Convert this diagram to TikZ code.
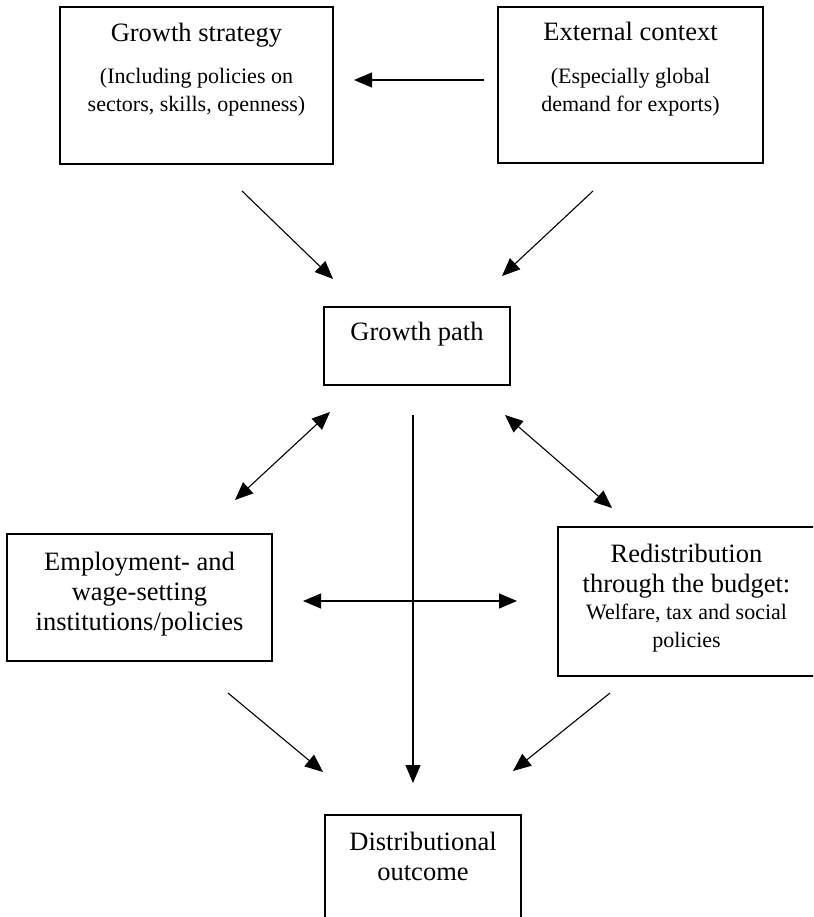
\documentclass[tikz,border=0pt]{standalone}
\usepackage{fontspec}
\setmainfont{Liberation Serif}
\usetikzlibrary{arrows.meta}

\begin{document}
\begin{tikzpicture}[x=1pt,y=-1pt,
  box/.style={draw, line width=1.1pt, inner sep=0pt, rectangle},
  % multi-line texts are placed by the baseline of their last line
  ttl/.style={font=\fontsize{26.5}{30}\selectfont, align=center, inner sep=0pt, anchor=base},
  sub/.style={font=\fontsize{22}{28}\selectfont, align=center, inner sep=0pt, anchor=base},
  link/.style={line width=1.1pt, -{Triangle[length=18pt,width=15pt]}},
  dlink/.style={line width=1.1pt, {Triangle[length=18pt,width=15pt]}-{Triangle[length=18pt,width=15pt]}}]

\useasboundingbox (0,0) rectangle (813,917);
\clip (0,0) rectangle (813,917);

% boxes (the budget box and the outcome box run past the page edge)
\node[box, minimum width=273pt, minimum height=157pt] (gs) at (196.5,85.5) {};
\node[box, minimum width=265pt, minimum height=156pt] (ec) at (630.5,85) {};
\node[box, minimum width=186pt, minimum height=78pt] (gp) at (417,346) {};
\node[box, minimum width=265pt, minimum height=127pt] (emp) at (139.5,597.5) {};
\node[box, minimum width=264pt, minimum height=149pt] (red) at (690,601.5) {};
\node[box, minimum width=196pt, minimum height=130pt] (dist) at (423,880) {};

% texts
\node[ttl] (gst) at (196.5,42) {Growth strategy};
\node[sub] (gss) at (196.5,112) {(Including policies on\\sectors, skills, openness)};
\node[ttl] (ect) at (630.5,41) {External context};
\node[sub] (ecs) at (630.5,112) {(Especially global\\demand for exports)};
\node[ttl] (gpt) at (417,340) {Growth path};
\node[ttl] (empt) at (139.5,630) {Employment- and\\wage-setting\\institutions/policies};
\node[ttl] (redt) at (686.5,592) {Redistribution\\through the budget:};
\node[sub] (reds) at (686.5,647) {Welfare, tax and social\\policies};
\node[ttl] (distt) at (423,880) {Distributional\\outcome};

% connector end points
\coordinate (ecW) at (484,80);
\coordinate (gsE) at (354,80);
\coordinate (gsB) at (242,191);
\coordinate (gpL) at (333,279);
\coordinate (ecB) at (593,191);
\coordinate (gpR) at (502,276);
\coordinate (gpBL) at (330,412);
\coordinate (empT) at (235,500);
\coordinate (gpBR) at (505,415);
\coordinate (redT) at (612,508);
\coordinate (gpB) at (413,415);
\coordinate (distT) at (413,783);
\coordinate (empR) at (303,601);
\coordinate (redL) at (517,601);
\coordinate (empB) at (228,693);
\coordinate (distL) at (323,772);
\coordinate (redB) at (610,693);
\coordinate (distR) at (513,771);

% connectors
\draw[link] (ecW) -- (gsE);
\draw[link] (gsB) -- (gpL);
\draw[link] (ecB) -- (gpR);
\draw[dlink] (gpBL) -- (empT);
\draw[dlink] (gpBR) -- (redT);
\draw[link] (gpB) -- (distT);
\draw[dlink] (empR) -- (redL);
\draw[link] (empB) -- (distL);
\draw[link] (redB) -- (distR);
\end{tikzpicture}
\end{document}
